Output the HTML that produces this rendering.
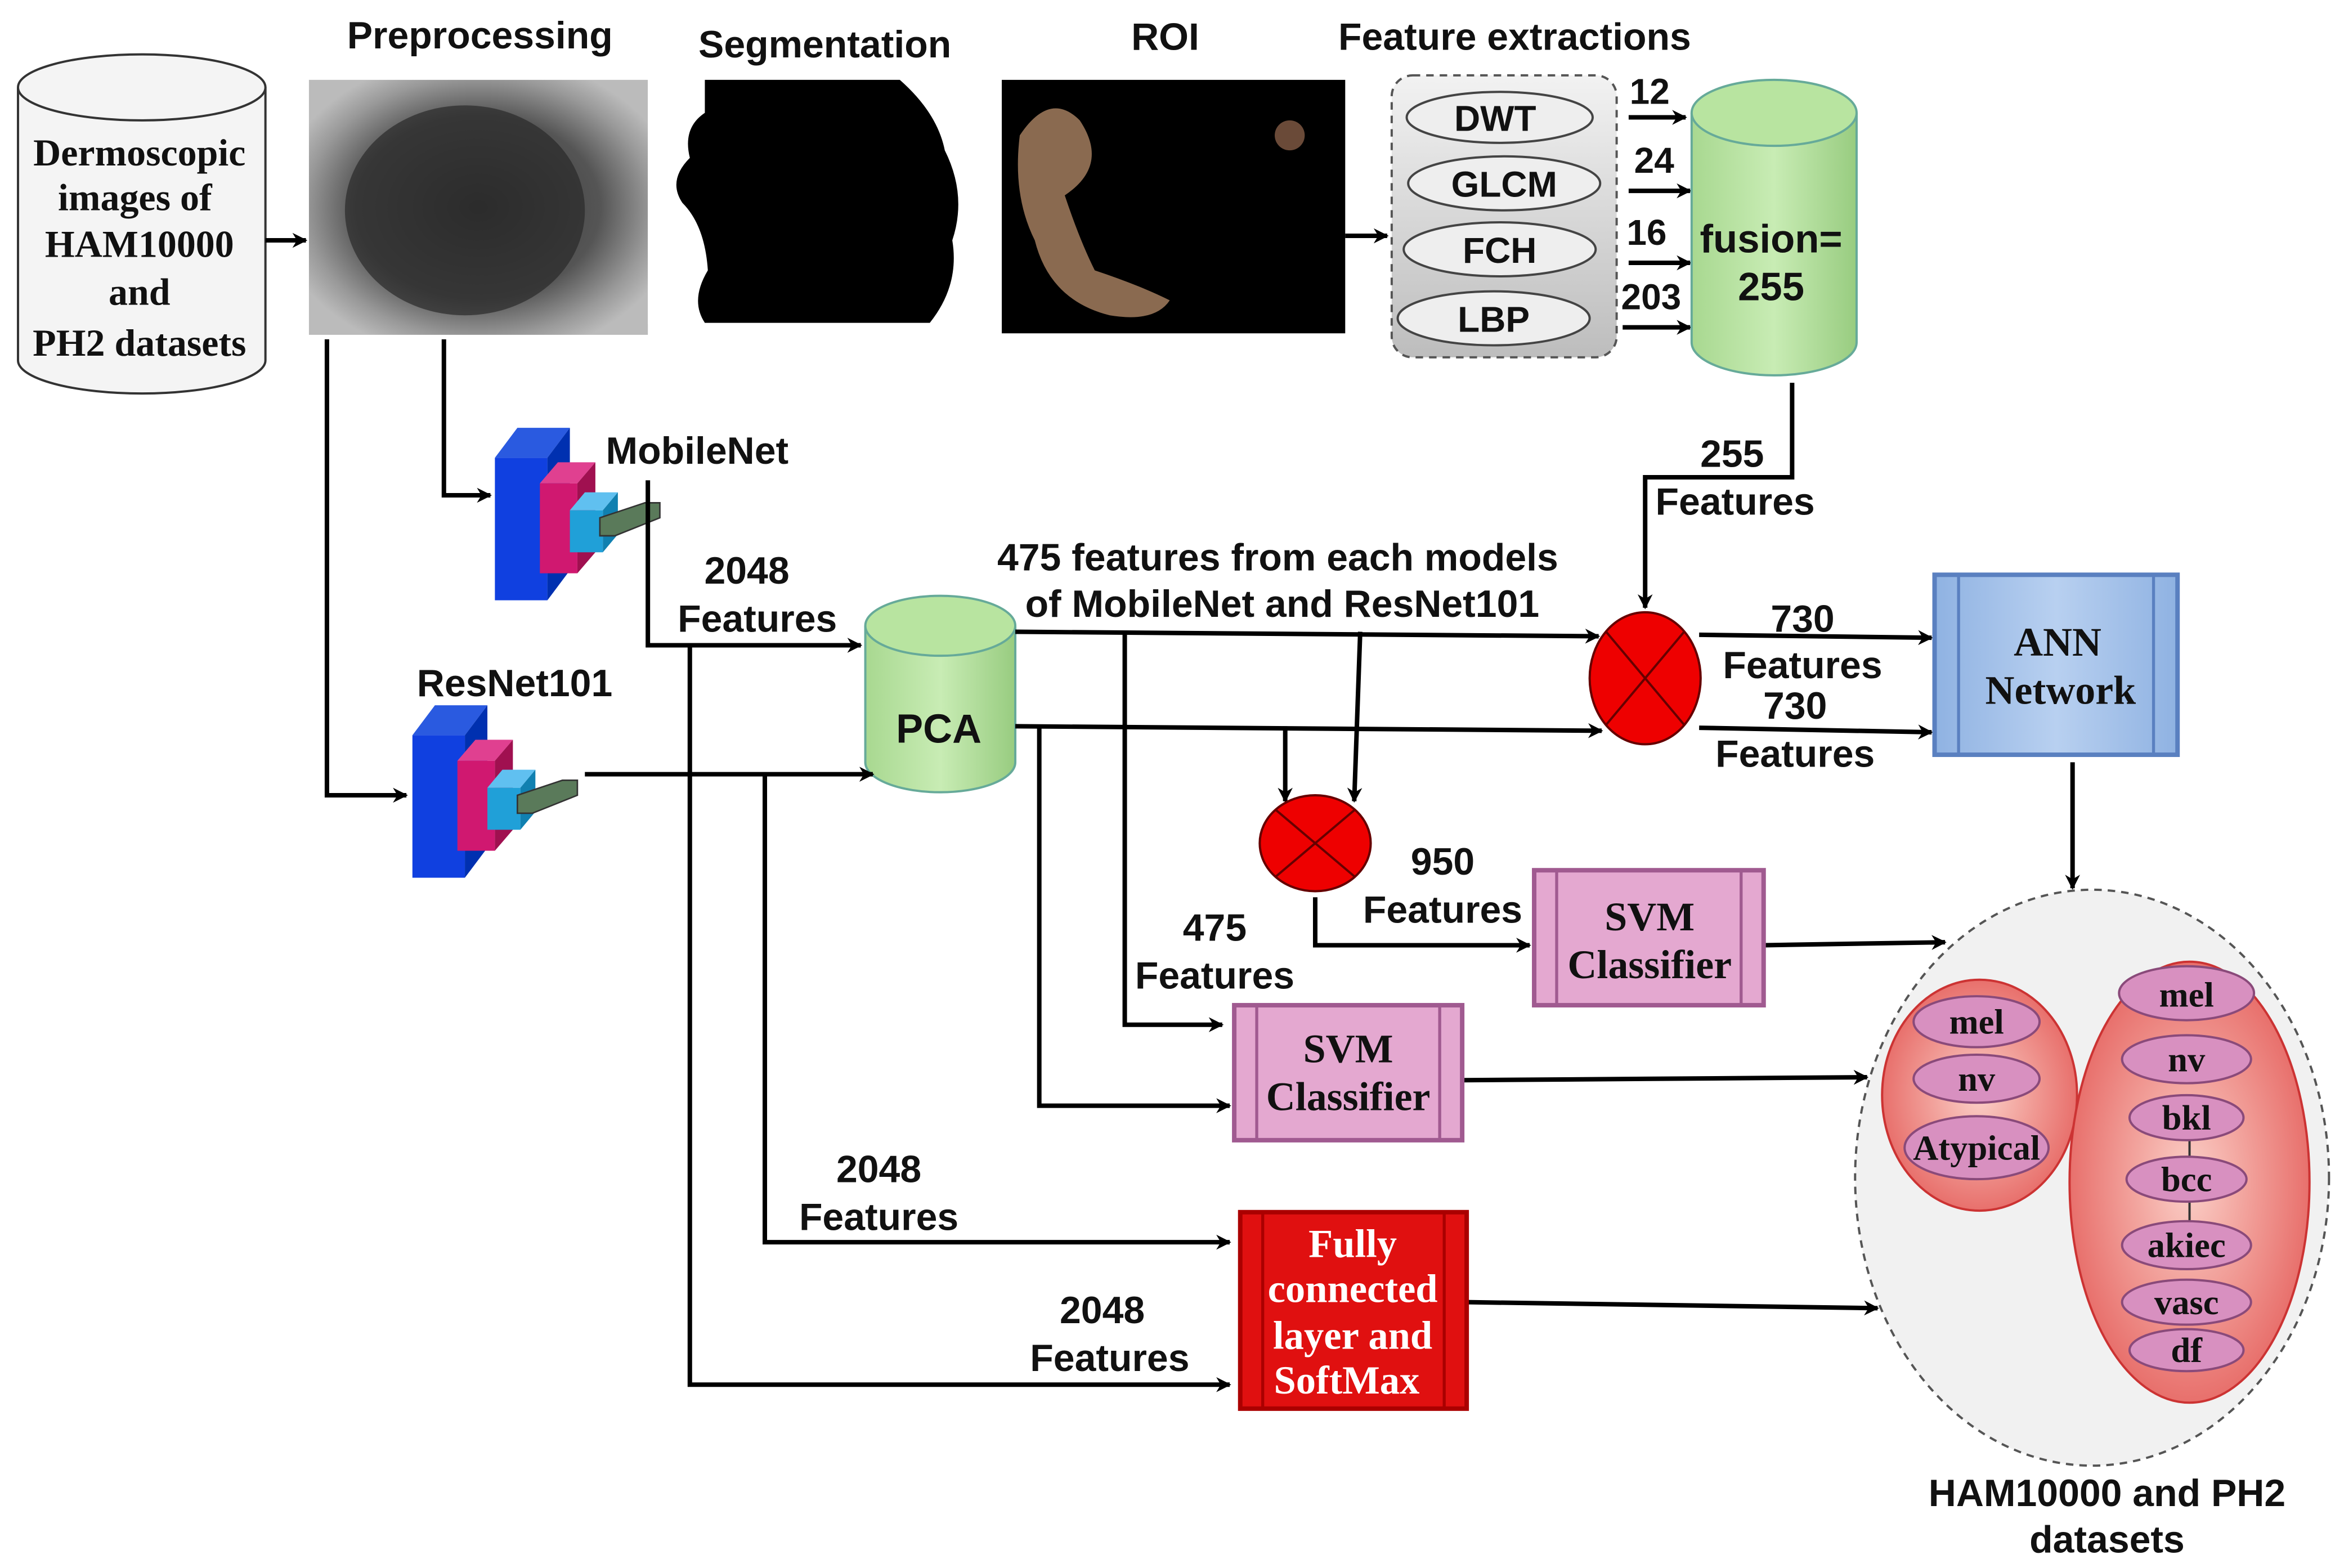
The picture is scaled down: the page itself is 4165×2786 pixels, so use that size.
<!DOCTYPE html>
<html><head><meta charset="utf-8"><style>
html,body{margin:0;padding:0;background:#fff;}
svg{display:block;}
.s{font-family:"Liberation Sans",sans-serif;font-weight:bold;fill:#111;}
.r{font-family:"Liberation Serif",serif;font-weight:bold;fill:#111;}
</style></head><body>
<svg width="4165" height="2786" viewBox="0 0 1563 1045" xmlns="http://www.w3.org/2000/svg">
<defs>
<marker id="a" markerWidth="10" markerHeight="10" refX="9" refY="5" orient="auto" markerUnits="userSpaceOnUse"><path d="M0,0 L10,5 L0,10 L3,5 Z" fill="#000"/></marker>
<linearGradient id="g" x1="0" x2="1"><stop offset="0" stop-color="#a8d890"/><stop offset="0.5" stop-color="#c8ecb4"/><stop offset="1" stop-color="#98cc80"/></linearGradient>
<linearGradient id="gr" x1="0" y1="0" x2="0" y2="1"><stop offset="0" stop-color="#f2f2f2"/><stop offset="1" stop-color="#bdbdbd"/></linearGradient>
<radialGradient id="pre" cx="0.5" cy="0.5" r="0.6"><stop offset="0" stop-color="#333"/><stop offset="0.6" stop-color="#555"/><stop offset="0.85" stop-color="#999"/><stop offset="1" stop-color="#bbb"/></radialGradient>
<linearGradient id="bl" x1="0" x2="1"><stop offset="0" stop-color="#8fb2e2"/><stop offset="0.5" stop-color="#b8d0f0"/><stop offset="1" stop-color="#8fb2e2"/></linearGradient>
<radialGradient id="rd" cx="0.5" cy="0.5" r="0.5"><stop offset="0" stop-color="#fbd0c8"/><stop offset="1" stop-color="#e8706c"/></radialGradient>
</defs>
<g stroke="#000" stroke-width="3" fill="none">
<path d="M12,58 L12,240 A82,22 0 0 0 177,240 L177,58" fill="#f4f4f4" stroke="#333" stroke-width="1.5"/>
<ellipse cx="94.5" cy="58" rx="82.5" ry="22" fill="#f4f4f4" stroke="#333" stroke-width="1.5"/>
<line x1="177" y1="160" x2="204" y2="160" marker-end="url(#a)"/>
</g>
<text class="r" font-size="25.5" text-anchor="middle"><tspan x="93" y="110">Dermoscopic</tspan><tspan x="90" y="140">images of</tspan><tspan x="93" y="171">HAM10000</tspan><tspan x="93" y="203">and</tspan><tspan x="93" y="237">PH2 datasets</tspan></text>
<rect x="206" y="53" width="226" height="170" fill="url(#pre)"/>
<ellipse cx="310" cy="140" rx="80" ry="70" fill="#2a2a2a" opacity="0.7"/>
<rect x="432" y="53" width="208" height="163" fill="#fff"/>
<path d="M470,53 L600,53 Q625,75 630,100 Q645,130 635,160 Q640,190 620,215 L470,215 Q460,200 472,180 Q470,150 455,135 Q445,120 460,105 Q455,85 470,75 Z" fill="#000"/>
<rect x="668" y="53" width="229" height="169" fill="#000"/>
<path d="M680,90 Q700,60 720,80 Q740,110 710,130 Q720,160 730,180 Q760,190 780,200 Q770,215 740,210 Q700,200 690,160 Q675,130 680,90 Z" fill="#8a6a50"/>
<circle cx="860" cy="90" r="10" fill="#6a4a38"/>
<g class="s" font-size="25.5" text-anchor="middle">
<text x="320" y="32">Preprocessing</text><text x="550" y="38">Segmentation</text><text x="777" y="33">ROI</text><text x="1010" y="33">Feature extractions</text>
</g>
<rect x="928" y="50" width="150" height="188" rx="14" fill="url(#gr)" stroke="#555" stroke-width="1.5" stroke-dasharray="5,4"/>
<g fill="#eee" stroke="#444" stroke-width="1.5">
<ellipse cx="1000" cy="78" rx="62" ry="17"/><ellipse cx="1003" cy="122" rx="64" ry="18"/><ellipse cx="1000" cy="166" rx="64" ry="18"/><ellipse cx="996" cy="212" rx="64" ry="18"/>
</g>
<g class="s" font-size="24" text-anchor="middle"><text x="997" y="87">DWT</text><text x="1003" y="131">GLCM</text><text x="1000" y="175">FCH</text><text x="996" y="221">LBP</text></g>
<g stroke="#000" stroke-width="3" fill="none" marker-end="url(#a)">
<line x1="897" y1="157" x2="925" y2="157"/>
<line x1="1086" y1="78" x2="1124" y2="78"/><line x1="1086" y1="127" x2="1127" y2="127"/><line x1="1086" y1="175" x2="1127" y2="175"/><line x1="1082" y1="218" x2="1127" y2="218"/>
</g>
<g class="s" font-size="24" text-anchor="middle"><text x="1100" y="69">12</text><text x="1103" y="115">24</text><text x="1098" y="163">16</text><text x="1101" y="206">203</text></g>
<path d="M1128,75 L1128,228 A55,22 0 0 0 1238,228 L1238,75" fill="url(#g)" stroke="#6a9" stroke-width="1.5"/>
<ellipse cx="1183" cy="75" rx="55" ry="22" fill="#b8e4a0" stroke="#6a9" stroke-width="1.5"/>
<text class="s" font-size="26.5" text-anchor="middle"><tspan x="1181" y="168">fusion=</tspan><tspan x="1181" y="200">255</tspan></text>
<g id="net">
<polygon points="330,305 345,285 380,285 365,305" fill="#2a5ae0"/><rect x="330" y="305" width="35" height="95" fill="#1040e0"/><polygon points="365,305 380,285 380,380 365,400" fill="#0030b0"/>
<rect x="360" y="322" width="25" height="60" fill="#d01870"/><polygon points="360,322 372,308 397,308 385,322" fill="#e04090"/><polygon points="385,322 397,308 397,368 385,382" fill="#a01050"/>
<rect x="380" y="340" width="22" height="28" fill="#20a0d8"/><polygon points="380,340 390,328 412,328 402,340" fill="#60c0f0"/><polygon points="402,340 412,328 412,356 402,368" fill="#1080b0"/>
<polygon points="400,345 430,335 440,335 440,345 410,357 400,357" fill="#5a7a5a" stroke="#333" stroke-width="1"/>
</g>
<use href="#net" transform="translate(-55,185)"/>
<text class="s" font-size="25.5"><tspan x="404" y="309">MobileNet</tspan><tspan x="278" y="464">ResNet101</tspan></text>
<path d="M577,417 L577,508 A50,20 0 0 0 677,508 L677,417" fill="url(#g)" stroke="#6a9" stroke-width="1.5"/>
<ellipse cx="627" cy="417" rx="50" ry="20" fill="#b8e4a0" stroke="#6a9" stroke-width="1.5"/>
<text class="s" font-size="27" x="626" y="495" text-anchor="middle">PCA</text>
<g stroke="#000" stroke-width="3" fill="none">
<polyline points="1195,255 1195,318 1097,318 1097,405" marker-end="url(#a)"/>
<polyline points="296,226 296,330 327,330" marker-end="url(#a)"/>
<polyline points="218,226 218,530 271,530" marker-end="url(#a)"/>
<polyline points="432,320 432,430 574,430" marker-end="url(#a)"/>
<line x1="390" y1="516" x2="582" y2="516" marker-end="url(#a)"/>
<line x1="677" y1="421" x2="1066" y2="424" marker-end="url(#a)"/>
<line x1="677" y1="484" x2="1068" y2="487" marker-end="url(#a)"/>
<line x1="1133" y1="423" x2="1288" y2="425" marker-end="url(#a)"/>
<line x1="1133" y1="485" x2="1288" y2="488" marker-end="url(#a)"/>
<line x1="1382" y1="508" x2="1382" y2="592" marker-end="url(#a)"/>
<polyline points="750,421 750,683 815,683" marker-end="url(#a)"/>
<line x1="907" y1="421" x2="903" y2="534" marker-end="url(#a)"/>
<line x1="857" y1="484" x2="857" y2="534" marker-end="url(#a)"/>
<polyline points="877,598 877,630 1020,630" marker-end="url(#a)"/>
<line x1="1176" y1="630" x2="1297" y2="628" marker-end="url(#a)"/>
<polyline points="693,484 693,737 820,737" marker-end="url(#a)"/>
<line x1="975" y1="720" x2="1245" y2="718" marker-end="url(#a)"/>
<polyline points="510,516 510,828 820,828" marker-end="url(#a)"/>
<polyline points="460,430 460,923 820,923" marker-end="url(#a)"/>
<line x1="978" y1="868" x2="1252" y2="872" marker-end="url(#a)"/>
</g>
<g class="s" font-size="25.5" text-anchor="middle">
<text x="1155" y="311">255</text><text x="1157" y="343">Features</text>
<text x="498" y="389">2048</text><text x="505" y="421">Features</text>
<text x="852" y="380">475 features from each models</text><text x="855" y="411">of MobileNet and ResNet101</text>
<text x="1202" y="421">730</text><text x="1202" y="452">Features</text>
<text x="1197" y="479">730</text><text x="1197" y="511">Features</text>
<text x="962" y="583">950</text><text x="962" y="615">Features</text>
<text x="810" y="627">475</text><text x="810" y="659">Features</text>
<text x="586" y="788">2048</text><text x="586" y="820">Features</text>
<text x="735" y="882">2048</text><text x="740" y="914">Features</text>
</g>
<g stroke="#600" stroke-width="1.5">
<ellipse cx="1097" cy="452" rx="37" ry="44" fill="#ee0000"/>
<path d="M1071,421 L1123,483 M1123,421 L1071,483"/>
<ellipse cx="877" cy="562" rx="37" ry="32" fill="#ee0000"/>
<path d="M851,540 L903,584 M903,540 L851,584"/>
</g>
<rect x="1290" y="383" width="162" height="120" fill="url(#bl)" stroke="#5a80c0" stroke-width="3"/>
<line x1="1306" y1="383" x2="1306" y2="503" stroke="#5a80c0" stroke-width="2"/><line x1="1436" y1="383" x2="1436" y2="503" stroke="#5a80c0" stroke-width="2"/>
<text class="r" font-size="27" text-anchor="middle"><tspan x="1372" y="437">ANN</tspan><tspan x="1374" y="469">Network</tspan></text>
<g fill="#e4a8d0" stroke="#a05a90" stroke-width="3">
<rect x="1023" y="580" width="153" height="90"/><rect x="823" y="670" width="152" height="90"/>
</g>
<g stroke="#a05a90" stroke-width="2"><line x1="1038" y1="580" x2="1038" y2="670"/><line x1="1161" y1="580" x2="1161" y2="670"/><line x1="838" y1="670" x2="838" y2="760"/><line x1="960" y1="670" x2="960" y2="760"/></g>
<text class="r" font-size="27" text-anchor="middle"><tspan x="1100" y="620">SVM</tspan><tspan x="1100" y="652">Classifier</tspan><tspan x="899" y="708">SVM</tspan><tspan x="899" y="740">Classifier</tspan></text>
<rect x="827" y="808" width="151" height="131" fill="#e01010" stroke="#a00" stroke-width="3"/>
<line x1="842" y1="808" x2="842" y2="939" stroke="#a00" stroke-width="2"/><line x1="963" y1="808" x2="963" y2="939" stroke="#a00" stroke-width="2"/>
<text class="r" font-size="26.5" text-anchor="middle" style="fill:#fff"><tspan x="902" y="838">Fully</tspan><tspan x="902" y="868">connected</tspan><tspan x="902" y="899">layer and</tspan><tspan x="898" y="929">SoftMax</tspan></text>
<ellipse cx="1395" cy="785" rx="158" ry="192" fill="#f1f1f1" stroke="#555" stroke-width="1.5" stroke-dasharray="5,4"/>
<ellipse cx="1320" cy="730" rx="65" ry="77" fill="url(#rd)" stroke="#c33" stroke-width="1.5"/>
<ellipse cx="1460" cy="788" rx="80" ry="147" fill="url(#rd)" stroke="#c33" stroke-width="1.5"/>
<g stroke="#333" stroke-width="1.5"><line x1="1460" y1="760" x2="1460" y2="772"/><line x1="1460" y1="800" x2="1460" y2="815"/></g>
<g fill="#d890c0" stroke="#8a4a7a" stroke-width="1.5">
<ellipse cx="1318" cy="681" rx="42" ry="17"/><ellipse cx="1318" cy="719" rx="42" ry="16"/><ellipse cx="1318" cy="765" rx="48" ry="21"/>
<ellipse cx="1458" cy="662" rx="45" ry="18"/><ellipse cx="1458" cy="706" rx="43" ry="16"/><ellipse cx="1458" cy="745" rx="38" ry="15"/><ellipse cx="1458" cy="786" rx="40" ry="15"/><ellipse cx="1458" cy="830" rx="43" ry="16"/><ellipse cx="1458" cy="868" rx="43" ry="15"/><ellipse cx="1458" cy="900" rx="38" ry="14"/>
</g>
<g class="r" font-size="23.5" text-anchor="middle">
<text x="1318" y="689">mel</text><text x="1318" y="727">nv</text><text x="1318" y="773">Atypical</text>
<text x="1458" y="671">mel</text><text x="1458" y="714">nv</text><text x="1458" y="753">bkl</text><text x="1458" y="794">bcc</text><text x="1458" y="838">akiec</text><text x="1458" y="876">vasc</text><text x="1458" y="908">df</text>
</g>
<text class="s" font-size="25.5" text-anchor="middle"><tspan x="1405" y="1004">HAM10000 and PH2</tspan><tspan x="1405" y="1035">datasets</tspan></text>
</svg>
</body></html>
